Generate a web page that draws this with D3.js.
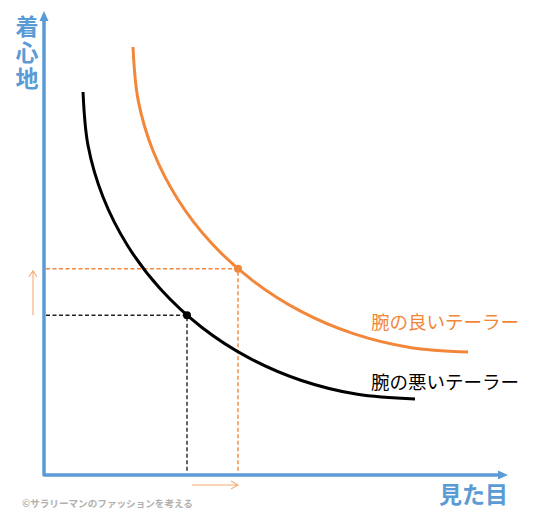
<!DOCTYPE html>
<html lang="ja">
<head>
<meta charset="utf-8">
<script src="https://cdn.jsdelivr.net/npm/d3@7"></script>
<style>
  html, body { margin: 0; padding: 0; background: #fff; }
  svg { display: block; }
</style>
</head>
<body>
<svg id="chart" width="540" height="522"></svg>
<script>
// Indifference curves: comfort (着心地) vs. appearance (見た目)
const poorTailorX = [8.41, 9.48, 12.72, 18.00, 25.15, 33.97, 44.18, 55.50, 67.54, 79.96];
const poorTailorY = [82.54, 71.06, 59.91, 49.46, 40.02, 31.85, 25.24, 20.37, 17.39, 16.38];
const goodTailorX = [19.18, 20.28, 23.53, 28.86, 36.08, 44.98, 55.28, 66.68, 78.84, 91.38];
const goodTailorY = [92.24, 80.84, 69.76, 59.38, 49.98, 41.90, 35.32, 30.47, 27.50, 26.51];
// chosen point on each curve
const poorPoint = [30.82, 34.44];
const goodPoint = [41.81, 44.46];
const seriesLabels = ["腕の悪いテーラー", "腕の良いテーラー"];
const axisLabelY = "着心地";
const axisLabelX = "見た目";
const creditText = "©サラリーマンのファッションを考える";

const BLUE = "#5b9bd5";
const ORANGE = "#f2873a";
const ORANGE_LIGHT = "#f6ab78";

const svg = d3.select("#chart");
const x = d3.scaleLinear().domain([0, 100]).range([44, 508]);
const y = d3.scaleLinear().domain([0, 100]).range([475, 11]);

const line = d3.line()
  .x(d => x(d[0]))
  .y(d => y(d[1]))
  .curve(d3.curveCatmullRom.alpha(0.5));

const poorData = poorTailorX.map((v, i) => [v, poorTailorY[i]]);
const goodData = goodTailorX.map((v, i) => [v, goodTailorY[i]]);

// dashed guides from each chosen point to the axes
function guides(pt, color) {
  svg.append("path")
    .attr("d", `M${x(0) + 2},${y(pt[1])}H${x(pt[0])}V${y(0) - 2}`)
    .attr("fill", "none")
    .attr("stroke", color)
    .attr("stroke-width", 1.4)
    .attr("stroke-dasharray", "4,2.5");
}
guides(poorPoint, "#222");
guides(goodPoint, ORANGE);

// curves
svg.append("path").datum(poorData).attr("d", line)
  .attr("fill", "none").attr("stroke", "#000").attr("stroke-width", 3);
svg.append("path").datum(goodData).attr("d", line)
  .attr("fill", "none").attr("stroke", ORANGE).attr("stroke-width", 3);

// points
svg.append("circle").attr("cx", x(poorPoint[0])).attr("cy", y(poorPoint[1])).attr("r", 4).attr("fill", "#000");
svg.append("circle").attr("cx", x(goodPoint[0])).attr("cy", y(goodPoint[1])).attr("r", 4).attr("fill", ORANGE);

// axes with arrowheads
svg.append("path")
  .attr("d", `M${x(0)},${y(100) + 8}V${y(0)}H${x(100) - 8}`)
  .attr("fill", "none").attr("stroke", BLUE).attr("stroke-width", 3.5)
  .attr("stroke-linejoin", "round").attr("stroke-linecap", "round");
svg.append("path")
  .attr("d", `M${x(0)},${y(100)}L${x(0) - 4.5},${y(100) + 10}L${x(0) + 4.5},${y(100) + 10}Z`)
  .attr("fill", BLUE);
svg.append("path")
  .attr("d", `M${x(100)},${y(0)}L${x(100) - 10},${y(0) - 4.5}L${x(100) - 10},${y(0) + 4.5}Z`)
  .attr("fill", BLUE);

// shift arrows (light orange)
const ax = x(0) - 11;
svg.append("path")
  .attr("d", `M${ax},${y(poorPoint[1])}V${y(goodPoint[1]) + 2}M${ax - 4},${y(goodPoint[1]) + 8}L${ax},${y(goodPoint[1]) + 2}L${ax + 4},${y(goodPoint[1]) + 8}`)
  .attr("fill", "none").attr("stroke", ORANGE_LIGHT).attr("stroke-width", 1.1);
const ay = y(0) + 10;
svg.append("path")
  .attr("d", `M${x(poorPoint[0]) + 5},${ay}H${x(goodPoint[0])}M${x(goodPoint[0]) - 7},${ay - 4}L${x(goodPoint[0])},${ay}L${x(goodPoint[0]) - 7},${ay + 4}`)
  .attr("fill", "none").attr("stroke", ORANGE_LIGHT).attr("stroke-width", 1.1);

// series labels
const labelFont = "'Noto Sans CJK JP', 'Noto Sans', sans-serif";
svg.append("text").attr("x", 371).attr("y", 329)
  .attr("font-family", labelFont).attr("font-size", 18.5).attr("fill", ORANGE)
  .text(seriesLabels[1]);
svg.append("text").attr("x", 371).attr("y", 389)
  .attr("font-family", labelFont).attr("font-size", 18.5).attr("fill", "#000")
  .text(seriesLabels[0]);

// axis titles (vertical one set top to bottom)
svg.append("text")
  .attr("x", 27).attr("y", 15)
  .style("writing-mode", "vertical-rl")
  .style("text-orientation", "upright")
  .attr("letter-spacing", 3)
  .attr("font-family", labelFont).attr("font-weight", 700).attr("font-size", 23)
  .attr("fill", BLUE).text(axisLabelY);
svg.append("text").attr("x", 508).attr("y", 503)
  .attr("text-anchor", "end")
  .attr("font-family", labelFont).attr("font-weight", 700).attr("font-size", 23)
  .attr("fill", BLUE).text(axisLabelX);

// credit
svg.append("text").attr("x", 22).attr("y", 507)
  .attr("font-family", labelFont).attr("font-weight", 700).attr("font-size", 9.6)
  .attr("fill", "#b0b0b0").text(creditText);
</script>
</body>
</html>
